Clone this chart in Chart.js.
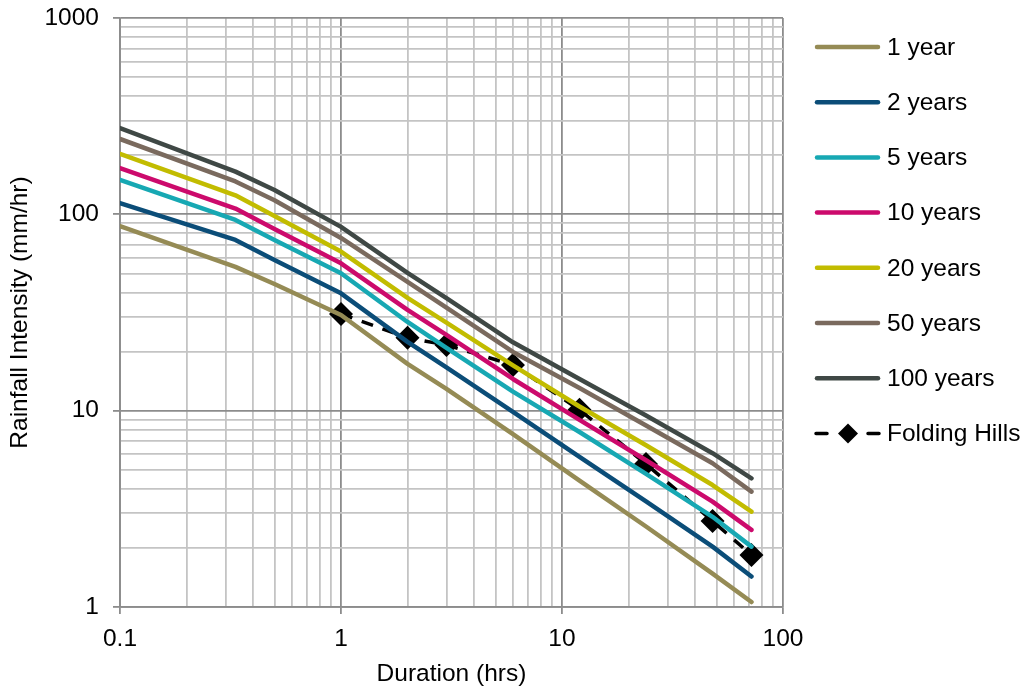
<!DOCTYPE html>
<html lang="en">
<head>
  <meta charset="UTF-8" />
  <title>IFD curves</title>
  <script src="https://cdn.jsdelivr.net/npm/chart.js"></script>
<style>
  body {
    margin: 0;
    background: #fff;
  }
  #wrap {
    width: 1027px;
    height: 693px;
  }
</style>
</head>
<body>
  <div id="wrap">
    <canvas id="chart" width="1027" height="693"></canvas>
  </div>

  <script>
    // durations (hrs) shared by all design curves
    const durations = [0.1, 0.333, 0.5, 1, 2, 3, 6, 12, 24, 48, 72];

    // rainfall intensity (mm/hr) per return period
    const aep1 = [87, 54.0, 44.2, 30.7, 17.3, 12.9, 7.6, 4.40, 2.57, 1.48, 1.06];
    const aep2 = [114, 74.1, 58.6, 39.6, 22.4, 16.6, 9.85, 5.81, 3.45, 2.03, 1.43];
    const aep5 = [150, 93.6, 74.1, 50.1, 28.3, 20.9, 12.5, 7.79, 4.76, 2.88, 2.03];
    const aep10 = [172, 107, 84.3, 56.3, 32.6, 24.3, 14.5, 8.97, 5.59, 3.44, 2.47];
    const aep20 = [203, 125, 98.1, 64.6, 37.5, 28.1, 17.0, 10.5, 6.67, 4.18, 3.06];
    const aep50 = [242, 147, 118, 75.8, 45.3, 33.5, 19.9, 13.05, 8.41, 5.40, 3.87];
    const aep100 = [275, 165, 133, 86.3, 50.3, 37.4, 22.3, 14.5, 9.45, 6.07, 4.52];

    // site storm
    const siteDurations = [1, 2, 3, 6, 12, 24, 48, 72];
    const siteIntensity = [31.1, 23.5, 21.6, 17.1, 10.1, 5.35, 2.74, 1.84];

    const xTickLabels = [0.1, 1, 10, 100];
    const yTickLabels = [1, 10, 100, 1000];

    const curves = [
      { label: '1 year', values: aep1, color: '#958b55' },
      { label: '2 years', values: aep2, color: '#0b4d78' },
      { label: '5 years', values: aep5, color: '#17a8b3' },
      { label: '10 years', values: aep10, color: '#cc0a6c' },
      { label: '20 years', values: aep20, color: '#c2bc00' },
      { label: '50 years', values: aep50, color: '#7a6a5e' },
      { label: '100 years', values: aep100, color: '#3f4845' }
    ];

    const datasets = curves.map(c => ({
      label: c.label,
      data: durations.map((d, i) => ({ x: d, y: c.values[i] })),
      borderColor: c.color,
      backgroundColor: c.color,
      borderWidth: 4.5,
      borderCapStyle: 'round',
      borderJoinStyle: 'round',
      pointRadius: 0,
      fill: false,
      tension: 0
    }));

    datasets.push({
      label: 'Folding Hills',
      data: siteDurations.map((d, i) => ({ x: d, y: siteIntensity[i] })),
      borderColor: '#000',
      backgroundColor: '#000',
      borderWidth: 3.5,
      borderDash: [12, 10],
      pointStyle: 'rectRot',
      pointRadius: 12,
      pointBackgroundColor: '#000',
      pointBorderWidth: 0,
      fill: false,
      tension: 0
    });

    // 1,2,..9,10,20,.. between the first and last label
    function logTicks(labels) {
      const out = [];
      for (let i = 0; i < labels.length - 1; i++) {
        for (let k = 1; k < 10; k++) out.push(+(labels[i] * k).toPrecision(6));
      }
      out.push(labels[labels.length - 1]);
      return out;
    }

    function isMajor(v, labels) {
      return labels.some(l => Math.abs(l - v) < l * 1e-6);
    }

    const FONT = '"Liberation Sans", Arial, sans-serif';
    const FS = 24.5;

    // legend drawn at the right of the plot
    const sideLegend = {
      id: 'sideLegend',
      afterDraw(chart) {
        const ctx = chart.ctx;
        const x0 = 815, x1 = 880, tx = 887;
        ctx.save();
        ctx.font = FS + 'px ' + FONT;
        ctx.textBaseline = 'middle';
        ctx.fillStyle = '#000';
        chart.data.datasets.forEach((ds, i) => {
          const y = 47 + i * 55.2;
          if (ds.pointStyle) {
            ctx.strokeStyle = '#000';
            ctx.lineWidth = 3.5;
            ctx.lineCap = 'round';
            ctx.beginPath();
            ctx.moveTo(x0 + 1, y); ctx.lineTo(x0 + 12, y);
            ctx.moveTo(x1 - 12, y); ctx.lineTo(x1 - 1, y);
            ctx.stroke();
            ctx.beginPath();
            ctx.moveTo(848, y - 10); ctx.lineTo(858, y);
            ctx.lineTo(848, y + 10); ctx.lineTo(838, y);
            ctx.closePath();
            ctx.fill();
          } else {
            ctx.strokeStyle = ds.borderColor;
            ctx.lineWidth = 4.5;
            ctx.lineCap = 'round';
            ctx.beginPath();
            ctx.moveTo(x0 + 2, y); ctx.lineTo(x1 - 2, y);
            ctx.stroke();
          }
          ctx.fillText(ds.label, tx, y + 1);
        });
        ctx.restore();
      }
    };

    new Chart(document.getElementById('chart'), {
      type: 'line',
      data: { datasets },
      plugins: [sideLegend],
      options: {
        responsive: false,
        animation: false,
        layout: { padding: { top: 18, right: 244, left: 2, bottom: 0 } },
        plugins: {
          legend: { display: false },
          tooltip: { enabled: false }
        },
        scales: {
          x: {
            type: 'logarithmic',
            min: 0.1,
            max: 100,
            afterBuildTicks: s => { s.ticks = logTicks(xTickLabels).map(v => ({ value: v })); },
            afterFit: s => { s.height = 86; s.paddingLeft = 0; s.paddingRight = 0; },
            grid: {
              color: c => isMajor(c.tick.value, xTickLabels) ? '#8c8c8c' : '#c4c4c4',
              tickColor: c => isMajor(c.tick.value, xTickLabels) ? '#8c8c8c' : 'rgba(0,0,0,0)',
              lineWidth: 1.8,
              tickLength: 7
            },
            border: { color: '#8c8c8c', width: 1.8 },
            ticks: {
              autoSkip: false,
              maxRotation: 0,
              padding: 11,
              color: '#000',
              font: { family: FONT, size: FS },
              callback: v => isMajor(v, xTickLabels) ? String(v) : ''
            },
            title: {
              display: true,
              text: 'Duration (hrs)',
              color: '#000',
              font: { family: FONT, size: FS },
              padding: { top: 6 }
            }
          },
          y: {
            type: 'logarithmic',
            min: 1,
            max: 1000,
            afterBuildTicks: s => { s.ticks = logTicks(yTickLabels).map(v => ({ value: v })); },
            afterFit: s => { s.width = 118; s.paddingTop = 0; s.paddingBottom = 0; },
            grid: {
              color: c => isMajor(c.tick.value, yTickLabels) ? '#8c8c8c' : '#c4c4c4',
              tickColor: c => isMajor(c.tick.value, yTickLabels) ? '#8c8c8c' : 'rgba(0,0,0,0)',
              lineWidth: 1.8,
              tickLength: 7
            },
            border: { color: '#8c8c8c', width: 1.8 },
            ticks: {
              autoSkip: false,
              padding: 14,
              color: '#000',
              font: { family: FONT, size: FS },
              callback: v => isMajor(v, yTickLabels) ? String(v) : ''
            },
            title: {
              display: true,
              text: 'Rainfall Intensity (mm/hr)',
              color: '#000',
              font: { family: FONT, size: FS },
              padding: { bottom: 0 }
            }
          }
        }
      }
    });
  </script>
</body>
</html>
